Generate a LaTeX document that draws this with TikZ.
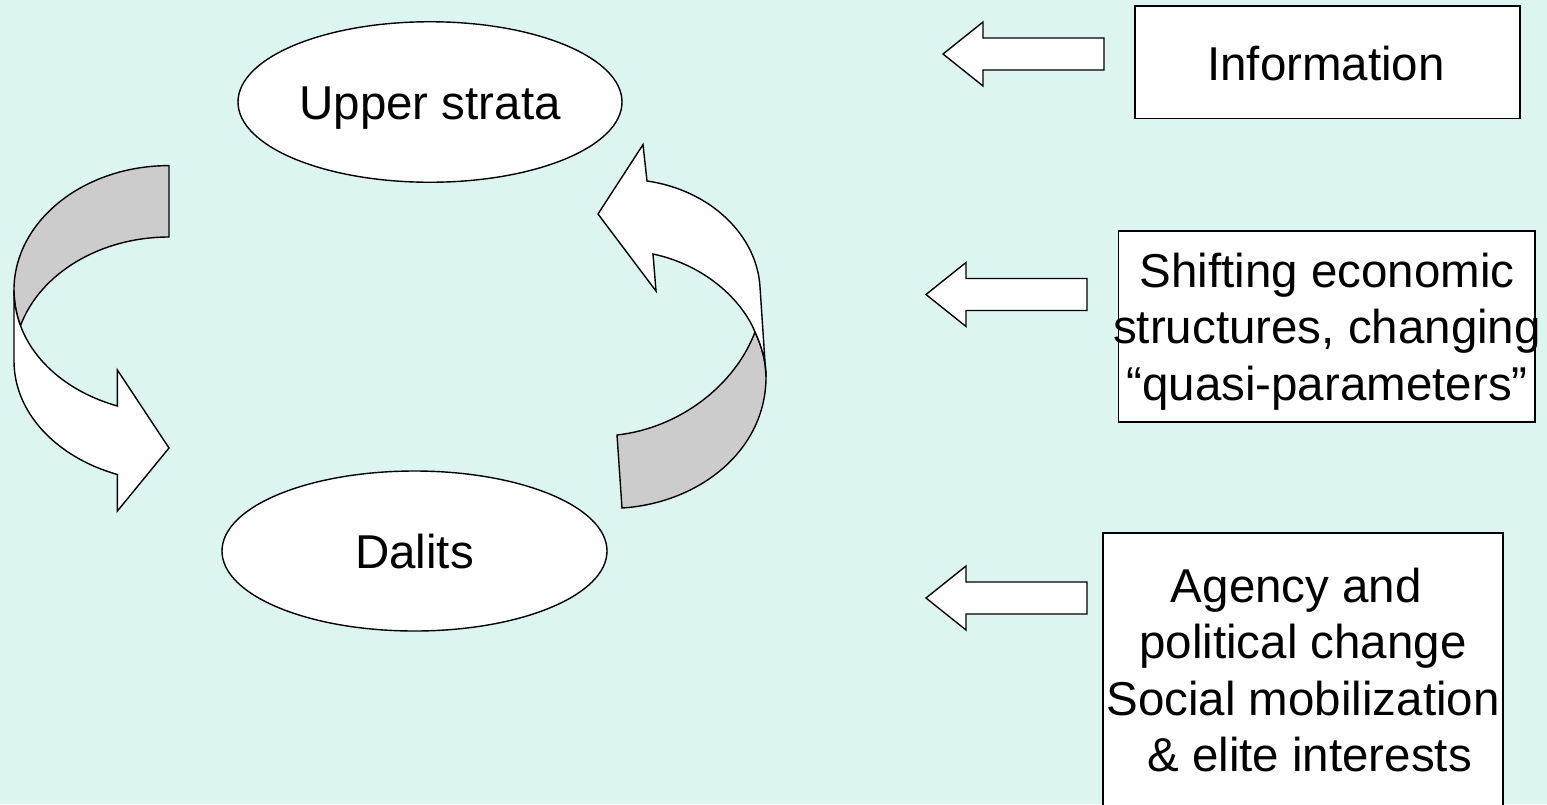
\documentclass[tikz,border=0pt]{standalone}
\usepackage{fontspec}
\setmainfont{Liberation Sans}
\usetikzlibrary{shapes.geometric}
\definecolor{bgcol}{RGB}{220,245,240}
\definecolor{backgrey}{RGB}{204,204,204}
\tikzset{
  outline/.style={draw=black, line width=1.4pt, line join=miter},
  ell/.style={ellipse, outline, fill=white, inner sep=0pt, text height=34pt, text depth=0pt,
    font=\fontsize{47.5}{56.5}\selectfont},
  boxstyle/.style={rectangle, draw=black, line width=1.8pt, fill=white, inner sep=0pt},
  txt/.style={font=\fontsize{47.5}{56.5}\selectfont, inner sep=0pt, align=center},
  frontface/.style={outline, fill=white},
  backface/.style={outline, fill=backgrey},
  blockarrow/.pic={
    \draw[outline, fill=white] (0,0) -- (40,-32) -- (40,-16) -- (161,-16) -- (161,16) -- (40,16) -- (40,32) -- cycle;
  }
}
\begin{document}
\begin{tikzpicture}[x=1pt,y=-1pt]
\useasboundingbox (0,0) rectangle (1547,804);
\fill[bgcol] (0,0) rectangle (1547,804);
\clip (0,0) rectangle (1547,804);

% left curved arrow (Upper strata -> Dalits)
\draw[backface] (169,165.6) .. controls (83.4,165.6) and (14,221.3) .. (14,290)
  .. controls (14,302.1) and (16.2,314.1) .. (20.5,325.7)
  .. controls (40.1,273.1) and (100.6,237) .. (169,237) -- cycle;
\draw[frontface] (14,290) -- (14,361)
  .. controls (14,412) and (55.6,457) .. (117.4,474.5)
  -- (117.4,511) -- (169,448) -- (117.4,370) -- (117.4,406)
  .. controls (70.8,392.8) and (34.7,363.7) .. (20.5,325.7)
  .. controls (16.2,314.1) and (14,302.1) .. (14,290) -- cycle;

% right curved arrow (Dalits -> Upper strata)
\draw[backface] (622,508) -- (617,435)
  .. controls (680,428) and (735,385) .. (755,332)
  .. controls (762,347) and (766,362) .. (766,377)
  .. controls (766,450) and (700,503) .. (622,508) -- cycle;
\draw[frontface] (766,377) -- (760,287)
  .. controls (757,235) and (710,190) .. (647,181)
  -- (643,144.6) -- (598,214) -- (656,291) -- (653,254)
  .. controls (705,265) and (742,300) .. (755,332)
  .. controls (762,347) and (766,362) .. (766,377) -- cycle;

% ellipses
\node[ell, minimum width=384pt, minimum height=160.5pt] (upper) at (430,102) {Upper strata};
\node[ell, minimum width=385pt, minimum height=160pt] (dalits) at (414.5,551) {Dalits};

% block arrows
\coordinate (a1) at (943,54);
\coordinate (a2) at (926,294.5);
\coordinate (a3) at (926,598);
\pic at (a1) {blockarrow};
\pic at (a2) {blockarrow};
\pic at (a3) {blockarrow};

% boxes
\node[boxstyle, minimum width=385pt, minimum height=112.5pt] (info) at (1327.5,62.25) {};
\node[boxstyle, minimum width=416.5pt, minimum height=191pt] (econ) at (1326.75,326.5) {};
\node[boxstyle, minimum width=400pt, minimum height=297pt] (agency) at (1303,681.5) {};

% texts (base anchor = baseline of the last line)
\node[txt, anchor=base] (infotext) at (1326,80.5) {Information};
\node[txt, anchor=base] (econtext) at (1327,400) {Shifting economic\\structures, changing\\“quasi-parameters”};
\node[txt, anchor=base] (agencytext) at (1303,771.5) {Agency and\kern13.2pt\\political change\\Social mobilization\\\kern13.2pt\& elite interests};
\end{tikzpicture}
\end{document}
